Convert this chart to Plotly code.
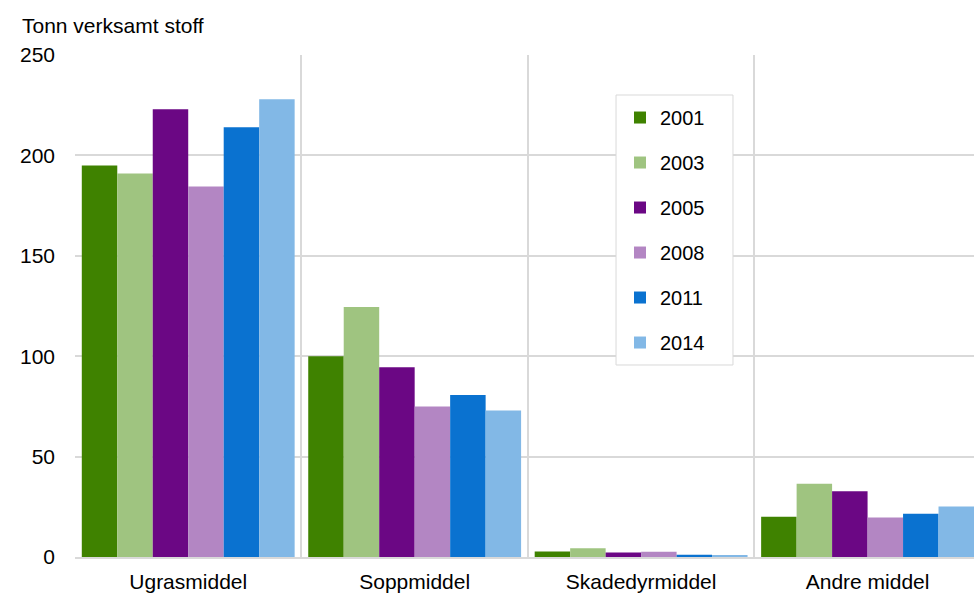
import plotly.graph_objects as go

categories = ["Ugrasmiddel", "Soppmiddel", "Skadedyrmiddel", "Andre middel"]
years = ["2001", "2003", "2005", "2008", "2011", "2014"]

v2001 = [195, 100, 2.8, 20]
v2003 = [191, 124.5, 4.3, 36.5]
v2005 = [223, 94.5, 2.3, 32.8]
v2008 = [184.5, 75, 2.6, 19.7]
v2011 = [214, 80.7, 1.1, 21.5]
v2014 = [228, 73, 1.0, 25.2]

series = [v2001, v2003, v2005, v2008, v2011, v2014]
colors = ["#3f8200", "#9fc480", "#6b0784", "#b386c3", "#0a72d0", "#82b8e6"]

fig = go.Figure()
for year, vals, col in zip(years, series, colors):
    fig.add_trace(go.Bar(x=categories, y=vals, name=year, marker_color=col,
                         marker_line_width=0, legendgroup=year))

font = "Liberation Sans, Arial, sans-serif"
fig.update_layout(
    width=974, height=593,
    margin=dict(l=75, r=0, t=55, b=36),
    plot_bgcolor="white", paper_bgcolor="white",
    barmode="group", bargap=0.06, bargroupgap=0,
    font=dict(family=font, size=21, color="#000000"),
    legend=dict(x=0.6062, y=0.9143, xanchor="left", yanchor="top",
                bgcolor="rgba(0,0,0,0)", borderwidth=0,
                tracegroupgap=16, font=dict(size=20)),
    showlegend=True,
)
# white box behind the legend (wider than plotly's own legend box)
fig.add_shape(type="rect", xref="paper", yref="paper",
              x0=0.6018, x1=0.7319, y0=0.3825, y1=0.9203,
              fillcolor="white", line=dict(color="#d9d9d9", width=1), layer="above")

fig.update_xaxes(range=[-0.5, 3.47], showgrid=True, gridcolor="#d9d9d9", gridwidth=2,
                 tickson="boundaries", ticks="", showline=True, linecolor="#d9d9d9",
                 linewidth=2, tickfont=dict(size=21), fixedrange=True, automargin=False,
                 ticklabelstandoff=5)
fig.update_yaxes(range=[0, 250], dtick=50, showgrid=True, gridcolor="#d9d9d9", gridwidth=2,
                 zeroline=False, ticks="", tickfont=dict(size=21), ticklabelstandoff=19,
                 automargin=False)
fig.add_annotation(text="Tonn verksamt stoff", xref="paper", yref="paper",
                   x=(20 - 75) / 899, y=(557 - 25) / 502, xanchor="left", yanchor="middle",
                   showarrow=False, font=dict(size=21))

fig.write_html("out.html", config={"displayModeBar": False},
               post_script="document.body.style.margin='0';")
